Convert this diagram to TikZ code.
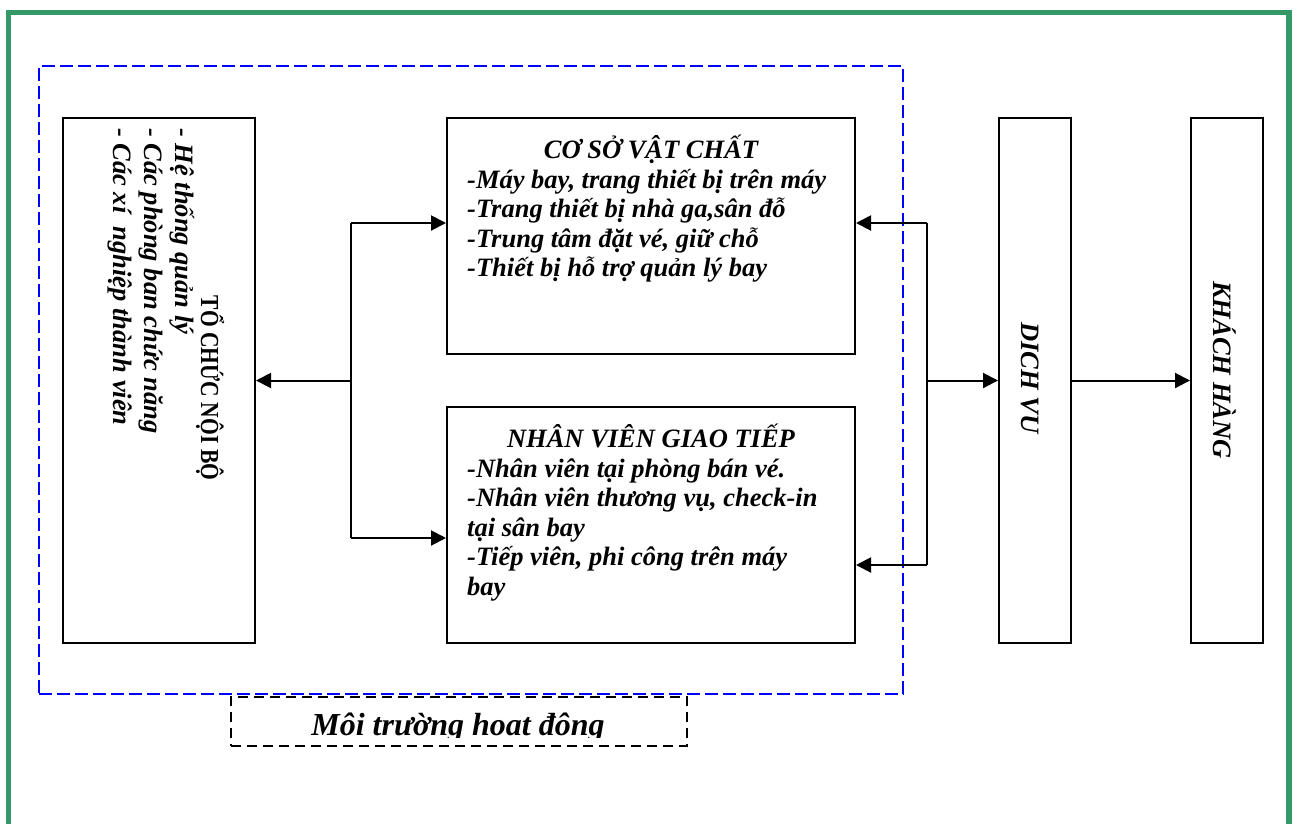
\documentclass[tikz,border=0pt]{standalone}
\usepackage{fontspec}
\setmainfont{Liberation Serif}[BoldFont={Liberation Serif Bold},ItalicFont={Liberation Serif Italic},BoldItalicFont={Liberation Serif Bold Italic}]
\usetikzlibrary{arrows.meta}
\definecolor{frameg}{RGB}{52,153,102}
\begin{document}
\begin{tikzpicture}[x=1pt,y=-1pt,
  box/.style={draw,line width=2pt,inner sep=0pt},
  bi/.style={font=\fontsize{26.5}{29.5}\selectfont\bfseries\itshape,inner sep=0pt},
  conn/.style={line width=2pt},
  arr/.style={line width=2pt,-{Triangle[length=15pt,width=15pt]}}]
\useasboundingbox (0,0) rectangle (1294,823);
% outer green frame
\draw[frameg,line width=5.5pt] (8.5,840) -- (8.5,12.5) -- (1289,12.5) -- (1289,840);
% environment (blue dashed)
\node[draw=blue,line width=1.9pt,dash pattern=on 13pt off 5pt,inner sep=0pt,
      minimum width=864pt,minimum height=628pt] (env) at (471,380) {};
% boxes
\node[box,minimum width=192pt,minimum height=525pt] (org) at (159,380.5) {};
\node[box,minimum width=408pt,minimum height=236pt] (csvc) at (651,236) {};
\node[box,minimum width=408pt,minimum height=236pt] (nv) at (651,525) {};
\node[box,minimum width=72pt,minimum height=525pt] (dv) at (1035,380.5) {};
\node[box,minimum width=72pt,minimum height=525pt] (kh) at (1227,380.5) {};
\node[draw,line width=1.8pt,dash pattern=on 10pt off 6pt,inner sep=0pt,
      minimum width=456pt,minimum height=49pt] (mt) at (459,721.5) {};
% label of environment (clipped as in the original)
\begin{scope}
  \clip (231,697) rectangle (687,737.5);
  \node[font=\fontsize{32}{36}\selectfont\bfseries\itshape,inner sep=0pt,anchor=base] (mtt) at (458,735) {Môi trường hoat đông};
\end{scope}
% texts: org
\node[font=\fontsize{26}{30}\selectfont\bfseries,rotate=-90,anchor=base,inner sep=0pt] (orgh) at (201,388) {\scalebox{0.83}[1]{TỔ CHỨC NỘI BỘ}};
\node[bi,rotate=-90,anchor=base west] (org1) at (175,128) {- Hệ thống quản lý};
\node[bi,rotate=-90,anchor=base west] (org2) at (144,128) {- Các phòng ban chức năng};
\node[bi,rotate=-90,anchor=base west] (org3) at (113,128) {- Các xí~ nghiệp thành viên};
% texts: csvc
\node[bi,anchor=base] (csvch) at (651,158) {CƠ SỞ VẬT CHẤT};
\node[bi,anchor=base west] (csvc1) at (467,188) {-Máy bay, trang thiết bị trên máy};
\node[bi,anchor=base west] (csvc2) at (467,217.5) {-Trang thiết bị nhà ga,sân đỗ};
\node[bi,anchor=base west] (csvc3) at (467,247) {-Trung tâm đặt vé, giữ chỗ};
\node[bi,anchor=base west] (csvc4) at (467,276.5) {-Thiết bị hỗ trợ quản lý bay};
% texts: nv
\node[bi,anchor=base] (nvh) at (651,447) {NHÂN VIÊN GIAO TIẾP};
\node[bi,anchor=base west] (nv1) at (467,477) {-Nhân viên tại phòng bán vé.};
\node[bi,anchor=base west] (nv2) at (467,506.5) {-Nhân viên thương vụ, check-in};
\node[bi,anchor=base west] (nv3) at (467,536) {tại sân bay};
\node[bi,anchor=base west] (nv4) at (467,565.5) {-Tiếp viên, phi công trên máy};
\node[bi,anchor=base west] (nv5) at (467,595) {bay};
% texts: dv, kh
\node[bi,rotate=-90,anchor=base] (dvt) at (1021,378) {DICH VU};
\node[bi,rotate=-90,anchor=base] (kht) at (1213,370) {KHÁCH HÀNG};
% connectors left
\coordinate (jl) at (351,380.5);
\coordinate (jlt) at (351,223);
\coordinate (jlb) at (351,538);
\draw[conn] (jlt) -- (jlb);
\draw[arr] (jl) -- (org.east);
\draw[arr] (jlt) -- (jlt -| csvc.west);
\draw[arr] (jlb) -- (jlb -| nv.west);
% connectors right
\coordinate (jrt) at (927,223);
\coordinate (jrb) at (927,565);
\coordinate (jrm) at (927,380.5);
\draw[conn] (jrt) -- (jrb);
\draw[arr] (jrt) -- (jrt -| csvc.east);
\draw[arr] (jrb) -- (jrb -| nv.east);
\draw[arr] (jrm) -- (dv.west);
\draw[arr] (dv.east) -- (kh.west);
\end{tikzpicture}
\end{document}
